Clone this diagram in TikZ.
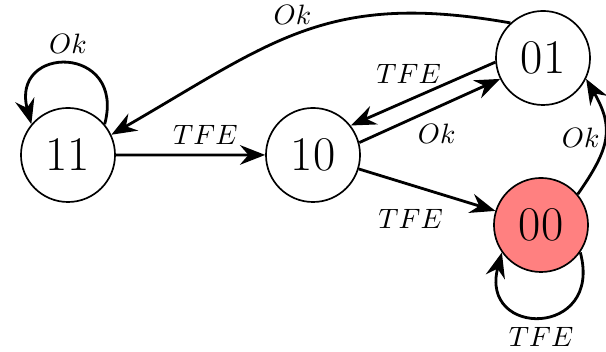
\documentclass[tikz,border=0pt]{standalone}
\usetikzlibrary{arrows.meta}
\tikzset{
  state/.style={circle,draw,semithick,minimum size=1.18cm,inner sep=0pt,font=\LARGE},
  final/.style={state,fill=red!50},
  trans/.style={->,line width=1pt},
}
\begin{document}
\begin{tikzpicture}[scale=1.2548,>={Stealth[length=9pt,width=7pt,inset=3pt]}]
   \useasboundingbox (0,0) rectangle (6.06,3.52);
   \node[state] (n11) at (0.68,1.97) {11};
   \node[state] (n10) at (3.13,1.97) {10};
   \node[state] (n01) at (5.43,2.94) {01};
   \node[final] (n00) at (5.41,1.27) {00};
   \draw[trans] (n11.40) to[out=75,in=105,looseness=2.9] node[above]{$Ok$} (n11.140);
   \draw[trans] (n01.133) to[out=170,in=30,looseness=1.15] node[pos=0.53,above]{$Ok$} (n11.25);
   \draw[trans] (n11) -- node[pos=0.6,above]{$TFE$} (n10);
   \draw[trans] (n01.185) -- node[pos=0.6,above=2pt]{$TFE$} (n10.38);
   \draw[trans] (n10.15) -- node[pos=0.55,below=2pt]{$Ok$} (n01.206);
   \draw[trans] (n10) -- node[pos=0.38,below=5pt]{$TFE$} (n00);
   \draw[trans] (n00.40) to[out=55,in=-60,looseness=1.25] node[left=-2pt]{$Ok$} (n01.-26);
   \draw[trans] (n00.-35) to[out=-75,in=-105,looseness=2.9] node[below]{$TFE$} (n00.-145);
\end{tikzpicture}
\end{document}
